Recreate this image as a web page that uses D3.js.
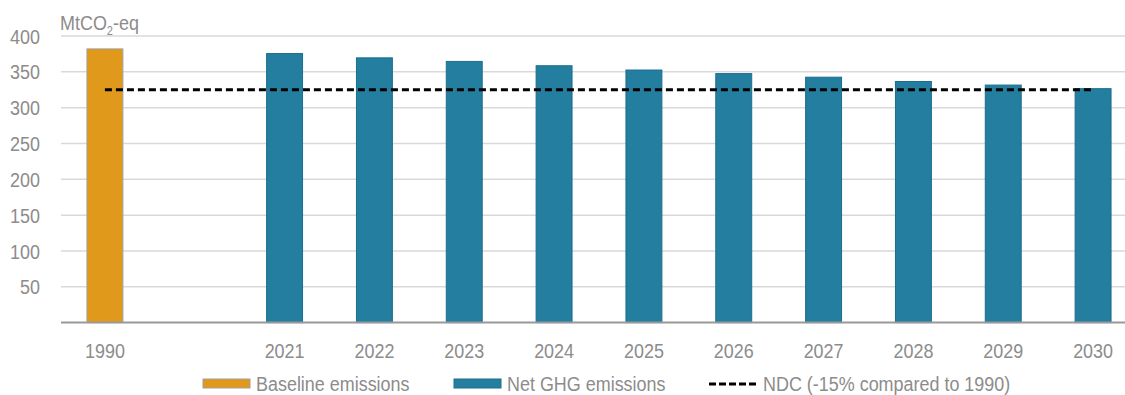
<!DOCTYPE html>
<html>
<head>
<meta charset="utf-8">
<script src="https://cdn.jsdelivr.net/npm/d3@7"></script>
<style>
  html, body { margin: 0; padding: 0; background: #fff; }
  svg text { font-family: "Liberation Sans", Arial, sans-serif; fill: #8c8c8c; }
</style>
</head>
<body>
<svg id="chart" width="1125" height="395"></svg>
<script>
const categories = ["1990", "", "2021", "2022", "2023", "2024", "2025", "2026", "2027", "2028", "2029", "2030"];
const baselineYears = ["1990"];
const baselineValues = [382];
const netYears = ["2021", "2022", "2023", "2024", "2025", "2026", "2027", "2028", "2029", "2030"];
const netValues = [375.5, 369.5, 364.5, 358.5, 352.5, 347.5, 342.5, 336.5, 331.5, 326.5];
const ndcValue = 325;
const yTicks = [50, 100, 150, 200, 250, 300, 350, 400];
const legendLabels = ["Baseline emissions", "Net GHG emissions", "NDC (-15% compared to 1990)"];

const FS = 21, SX = 0.855;
const svg = d3.select("#chart");
const x = d3.scaleBand().domain(categories).range([60, 1138]).paddingInner(0.6).paddingOuter(0.3);
const y = d3.scaleLinear().domain([0, 400]).range([322.6, 36]);

function label(parent, tx, ty, anchor) {
  return parent.append("g").attr("transform", `translate(${tx},${ty}) scale(${SX},1)`)
    .append("text").attr("text-anchor", anchor).attr("dy", "0.36em").attr("font-size", FS);
}

// gridlines
svg.append("g").selectAll("line").data(yTicks).join("line")
  .attr("x1", 61).attr("x2", 1125)
  .attr("y1", d => y(d)).attr("y2", d => y(d))
  .attr("stroke", "#d9d9d9").attr("stroke-width", 1.5);

// y tick labels
const yg = svg.append("g");
yTicks.forEach(t => label(yg, 40, y(t), "end").text(t));

// y unit label
const unit = svg.append("g").attr("transform", `translate(60,30) scale(${SX},1)`)
  .append("text").attr("font-size", FS);
unit.append("tspan").text("MtCO");
unit.append("tspan").attr("font-size", 13).attr("dy", 5).text("2");
unit.append("tspan").attr("dy", -5).text("-eq");

// bars
svg.append("g").selectAll("rect").data(baselineYears.map((c, i) => ({c, v: baselineValues[i]}))).join("rect")
  .attr("x", d => x(d.c)).attr("width", x.bandwidth())
  .attr("y", d => y(d.v)).attr("height", d => y(0) - y(d.v))
  .attr("fill", "#E0991A").attr("stroke", "#a0a0a0").attr("stroke-width", 1);

svg.append("g").selectAll("rect").data(netYears.map((c, i) => ({c, v: netValues[i]}))).join("rect")
  .attr("x", d => x(d.c)).attr("width", x.bandwidth())
  .attr("y", d => y(d.v)).attr("height", d => y(0) - y(d.v))
  .attr("fill", "#247E9F").attr("stroke", "#1a6e8e").attr("stroke-width", 1);

// baseline axis
svg.append("line").attr("x1", 61).attr("x2", 1125).attr("y1", y(0)).attr("y2", y(0))
  .attr("stroke", "#999").attr("stroke-width", 2);

// x labels
const xg = svg.append("g");
baselineYears.concat(netYears).forEach(d => label(xg, x(d) + x.bandwidth() / 2, 350, "middle").text(d));

// NDC line
svg.append("line")
  .attr("x1", x("1990") + x.bandwidth() / 2).attr("x2", x("2030") + x.bandwidth() / 2)
  .attr("y1", y(ndcValue)).attr("y2", y(ndcValue))
  .attr("stroke", "#000").attr("stroke-width", 2.8).attr("stroke-dasharray", "7,4");

// legend
const lg = svg.append("g");
const ly = 383;
lg.append("rect").attr("x", 203).attr("y", ly - 4).attr("width", 47).attr("height", 9)
  .attr("fill", "#E0991A").attr("stroke", "#a0a0a0").attr("stroke-width", 1);
label(lg, 256, ly, "start").text(legendLabels[0]);
lg.append("rect").attr("x", 454).attr("y", ly - 4).attr("width", 47).attr("height", 9)
  .attr("fill", "#247E9F").attr("stroke", "#1a6e8e").attr("stroke-width", 1);
label(lg, 507, ly, "start").text(legendLabels[1]);
lg.append("line").attr("x1", 709).attr("x2", 757).attr("y1", ly + 1).attr("y2", ly + 1)
  .attr("stroke", "#000").attr("stroke-width", 2.8).attr("stroke-dasharray", "7,3");
label(lg, 763, ly, "start").text(legendLabels[2]);
</script>
</body>
</html>
